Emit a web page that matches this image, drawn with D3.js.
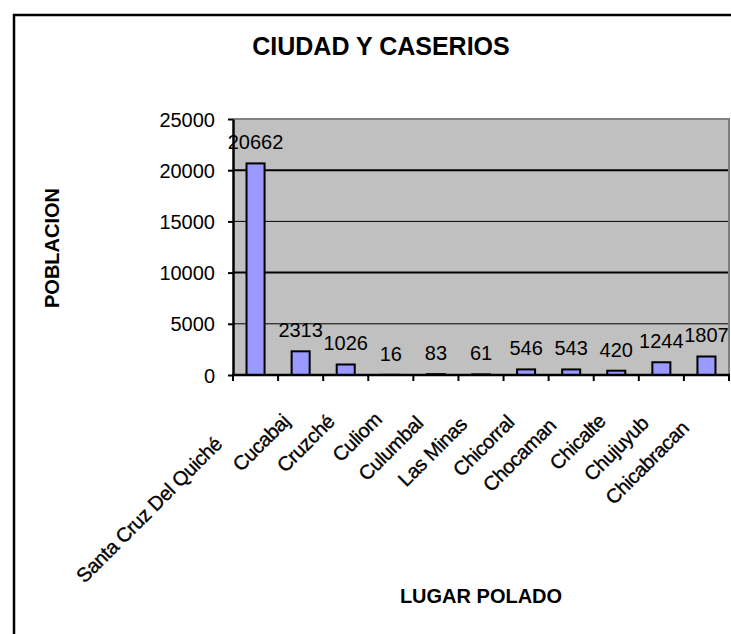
<!DOCTYPE html>
<html lang="es">
<head>
  <meta charset="UTF-8" />
  <title>Ciudad y Caserios</title>
  <script src="https://d3js.org/d3.v7.min.js"></script>
  <style>
    body { margin: 0; background: #fff; }
    svg { display: block; font-family: "Liberation Sans", Arial, sans-serif; }
    .tick text { font-size: 20px; fill: #000; }
    .bar { fill: #9999ff; stroke: #000; stroke-width: 2; }
    .value-label { font-size: 20px; fill: #000; }
    .axis-title { font-size: 20px; font-weight: bold; }
    .cat-label { font-size: 20px; fill: #000; stroke: #000; stroke-width: 0.35; letter-spacing: -0.4px; }
  </style>
</head>
<body>
  <svg width="731" height="634"></svg>

  <script>
    // data
    const categories = ["Santa Cruz Del Quiché", "Cucabaj", "Cruzché", "Culiom", "Culumbal",
      "Las Minas", "Chicorral", "Chocaman", "Chicalte", "Chujuyub", "Chicabracan"];
    const population = [20662, 2313, 1026, 16, 83, 61, 546, 543, 420, 1244, 1807];
    const yTicks = [0, 5000, 10000, 15000, 20000, 25000];

    const svg = d3.select("svg");
    const plot = { left: 233, right: 729, top: 119, bottom: 375 };

    // chart area border (runs off the right/bottom edges of the picture)
    svg.append("path")
      .attr("d", "M14,640V15H745")
      .attr("fill", "none")
      .attr("stroke", "#000")
      .attr("stroke-width", 2.5);

    const x = d3.scaleBand()
      .domain(categories)
      .range([plot.left, plot.right])
      .paddingInner(0.6)
      .paddingOuter(0.3);

    const y = d3.scaleLinear()
      .domain([0, 25000])
      .range([plot.bottom, plot.top]);

    // plot background
    svg.append("rect")
      .attr("x", plot.left)
      .attr("y", plot.top)
      .attr("width", plot.right - plot.left)
      .attr("height", plot.bottom - plot.top)
      .attr("fill", "#c0c0c0");

    // gridlines
    svg.append("g")
      .selectAll("line")
      .data(yTicks.filter(t => t > 0 && t < 25000))
      .join("line")
        .attr("x1", plot.left)
        .attr("x2", plot.right)
        .attr("y1", d => y(d))
        .attr("y2", d => y(d))
        .attr("stroke", "#000")
        .attr("stroke-width", d => (d / 5000) % 2 === 0 ? 2 : 1);

    // grey top/right frame of the plot area
    svg.append("path")
      .attr("d", `M${plot.left},${plot.top}H${plot.right}V${plot.bottom}`)
      .attr("fill", "none")
      .attr("stroke", "#808080")
      .attr("stroke-width", 2);

    // bars
    svg.append("g")
      .selectAll("rect")
      .data(categories)
      .join("rect")
        .attr("class", "bar")
        .attr("x", d => x(d))
        .attr("width", x.bandwidth())
        .attr("y", (d, i) => y(population[i]))
        .attr("height", (d, i) => y(0) - y(population[i]));

    // value labels
    svg.append("g")
      .selectAll("text")
      .data(categories)
      .join("text")
        .attr("class", "value-label")
        .attr("x", d => x(d) + x.bandwidth() / 2)
        .attr("y", (d, i) => y(population[i]) - 14)
        .attr("text-anchor", "middle")
        .text((d, i) => population[i]);

    // y axis
    const yAxis = svg.append("g")
      .attr("transform", `translate(${plot.left},0)`)
      .call(d3.axisLeft(y).tickValues(yTicks).tickFormat(d3.format("d"))
        .tickSize(5).tickPadding(13).tickSizeOuter(0));
    yAxis.select(".domain").attr("stroke", "#000").attr("stroke-width", 2.5);
    yAxis.selectAll(".tick line").attr("stroke", "#000").attr("stroke-width", 2);
    yAxis.selectAll(".tick text").attr("dy", "0.35em");

    // x axis: ticks sit between categories
    const step = x.step();
    const boundaries = d3.range(categories.length + 1).map(i => plot.left + i * step);
    const xAxis = svg.append("g");
    xAxis.append("line")
      .attr("x1", plot.left - 1)
      .attr("x2", plot.right + 1)
      .attr("y1", plot.bottom)
      .attr("y2", plot.bottom)
      .attr("stroke", "#000")
      .attr("stroke-width", 2.5);
    xAxis.selectAll("line.tk")
      .data(boundaries)
      .join("line")
        .attr("class", "tk")
        .attr("x1", d => d)
        .attr("x2", d => d)
        .attr("y1", plot.bottom)
        .attr("y2", plot.bottom + 6)
        .attr("stroke", "#000")
        .attr("stroke-width", 2);

    // rotated category labels; longer labels slide a bit further down the diagonal
    xAxis.selectAll("text")
      .data(categories)
      .join("text")
        .attr("class", "cat-label")
        .attr("text-anchor", "end")
        .text(d => d)
        .each(function(d) {
          const len = this.getComputedTextLength();
          const s = 16 + 0.18 * len;
          const cx = x(d) + x.bandwidth() / 2;
          d3.select(this)
            .attr("transform", `translate(${cx + 19 - s},${plot.bottom + 19 + s}) rotate(-45)`);
        });

    // titles
    svg.append("text")
      .attr("x", 381)
      .attr("y", 55)
      .attr("text-anchor", "middle")
      .attr("font-size", 25)
      .attr("font-weight", "bold")
      .text("CIUDAD Y CASERIOS");

    svg.append("text")
      .attr("class", "axis-title")
      .attr("transform", "translate(59,248) rotate(-90)")
      .attr("text-anchor", "middle")
      .text("POBLACION");

    svg.append("text")
      .attr("class", "axis-title")
      .attr("x", (plot.left + plot.right) / 2)
      .attr("y", 603)
      .attr("text-anchor", "middle")
      .text("LUGAR POLADO");
  </script>
</body>
</html>
